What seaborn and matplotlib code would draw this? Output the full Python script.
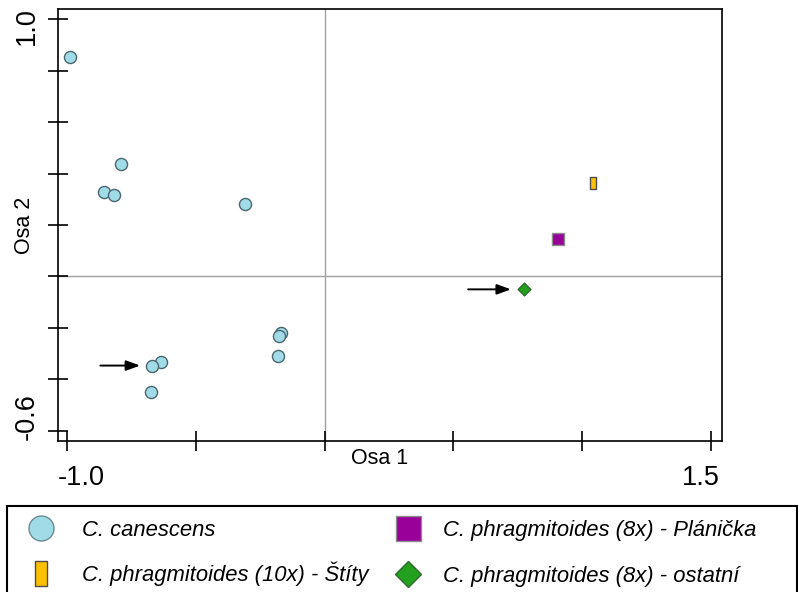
import matplotlib
matplotlib.use("Agg")
import matplotlib.pyplot as plt
import matplotlib.transforms as mtransforms
from matplotlib.lines import Line2D
from matplotlib.patches import Rectangle
from matplotlib.path import Path
import pandas as pd
import seaborn as sns

# ---------------- data ----------------
canescens_x = [-0.988, -0.790, -0.856, -0.818, -0.309, -0.169, -0.176, -0.180, -0.635, -0.671, -0.675]
canescens_y = [0.852, 0.437, 0.328, 0.317, 0.282, -0.221, -0.230, -0.308, -0.331, -0.346, -0.447]
stity_x = [1.041]
stity_y = [0.364]
planicka_x = [0.907]
planicka_y = [0.147]
ostatni_x = [0.773]
ostatni_y = [-0.050]

series_labels = [
    "C. canescens",
    "C. phragmitoides (10x) - Štíty",
    "C. phragmitoides (8x) - Plánička",
    "C. phragmitoides (8x) - ostatní",
]
x_ticks = [-1.0, -0.5, 0.0, 0.5, 1.0, 1.5]
x_tick_labels = ["-1.0", "", "", "", "", "1.5"]
y_ticks = [1.0, 0.8, 0.6, 0.4, 0.2, 0.0, -0.2, -0.4, -0.6]
y_tick_labels = ["1.0", "", "", "", "", "", "", "", "-0.6"]
x_label = "Osa 1"
y_label = "Osa 2"

# ---------------- style ----------------
plt.rcParams["font.family"] = ["Liberation Sans", "DejaVu Sans"]

c_blue, e_blue = "#A2DBE8", "#4A6670"
c_orange, e_orange = "#FFC000", "#4D4D4D"
c_purple, e_purple = "#990099", "#8C8C8C"
c_green, e_green = "#22A01E", "#2E6A2E"

rect_marker = Path([(-0.45, -1), (0.45, -1), (0.45, 1), (-0.45, 1), (-0.45, -1)],
                   [Path.MOVETO, Path.LINETO, Path.LINETO, Path.LINETO, Path.CLOSEPOLY])

W, H = 798, 592
fig = plt.figure(figsize=(W / 100, H / 100), dpi=100)
ax = fig.add_axes([58 / W, 1 - 441 / H, 664 / W, 432 / H])

ax.axvline(0, color="#A0A0A0", lw=1.0, zorder=0)
ax.axhline(0, color="#A0A0A0", lw=1.0, zorder=0)

df_c = pd.DataFrame({"x": canescens_x, "y": canescens_y})
df_s = pd.DataFrame({"x": stity_x, "y": stity_y})
df_p = pd.DataFrame({"x": planicka_x, "y": planicka_y})
df_o = pd.DataFrame({"x": ostatni_x, "y": ostatni_y})

sns.scatterplot(data=df_c, x="x", y="y", ax=ax, marker="o", s=76, color=c_blue,
                edgecolor=e_blue, linewidth=1.0, legend=False, zorder=3)
sns.scatterplot(data=df_s, x="x", y="y", ax=ax, marker=rect_marker, s=66, color=c_orange,
                edgecolor=e_orange, linewidth=1.0, legend=False, zorder=3)
sns.scatterplot(data=df_p, x="x", y="y", ax=ax, marker="s", s=64, color=c_purple,
                edgecolor=e_purple, linewidth=1.0, legend=False, zorder=3)
sns.scatterplot(data=df_o, x="x", y="y", ax=ax, marker="D", s=42, color=c_green,
                edgecolor=e_green, linewidth=1.0, legend=False, zorder=3)

# arrows pointing at highlighted samples
arrowprops = dict(arrowstyle="-|>,head_length=0.6,head_width=0.22", color="black",
                  lw=1.4, shrinkA=0, mutation_scale=14)
ax.annotate("", xy=(ostatni_x[0], ostatni_y[0]), xytext=(-40, 0), textcoords="offset points",
            arrowprops=dict(arrowprops, shrinkB=9.2))
ax.annotate("", xy=(canescens_x[9], canescens_y[9]), xytext=(-37, 0), textcoords="offset points",
            arrowprops=dict(arrowprops, shrinkB=8.4))

ax.set_xlim(-1.035, 1.543)
ax.set_ylim(-0.639, 1.039)
ax.set_xticks(x_ticks)
ax.set_xticklabels(x_tick_labels)
ax.set_yticks(y_ticks)
ax.set_yticklabels(y_tick_labels)

for sp in ax.spines.values():
    sp.set_linewidth(1.2)
    sp.set_color("black")

ax.tick_params(axis="both", direction="inout", length=14, width=1.2, colors="black",
               labelsize=19.5)
ax.tick_params(axis="x", pad=10)
ax.tick_params(axis="y", pad=6, labelrotation=90)

# keep the end labels inside the axis extent
xl = ax.get_xticklabels()
xl[0].set_ha("left")
xl[0].set_transform(xl[0].get_transform() + mtransforms.ScaledTranslation(-9 / 100, 0, fig.dpi_scale_trans))
xl[-1].set_ha("right")
xl[-1].set_transform(xl[-1].get_transform() + mtransforms.ScaledTranslation(9 / 100, 0, fig.dpi_scale_trans))
yl = ax.get_yticklabels()
for lab in yl:
    lab.set_va("center")
yl[0].set_va("top")
yl[0].set_transform(yl[0].get_transform() + mtransforms.ScaledTranslation(0, 12 / 100, fig.dpi_scale_trans))
yl[-1].set_va("bottom")
yl[-1].set_transform(yl[-1].get_transform() + mtransforms.ScaledTranslation(0, -9 / 100, fig.dpi_scale_trans))

ax.set_xlabel(x_label, fontsize=15.5)
ax.xaxis.set_label_coords(0.485, -0.016)
ax.set_ylabel(y_label, fontsize=15.5)
ax.yaxis.set_label_coords(-0.034, 0.5)

# ---------------- legend ----------------
handles = [
    Line2D([], [], ls="none", marker="o", markersize=18, markerfacecolor=c_blue,
           markeredgecolor="#6A8A94", markeredgewidth=1.0),
    Line2D([], [], ls="none", marker=rect_marker, markersize=18, markerfacecolor=c_orange,
           markeredgecolor=e_orange, markeredgewidth=1.0),
    Line2D([], [], ls="none", marker="s", markersize=18, markerfacecolor=c_purple,
           markeredgecolor=e_purple, markeredgewidth=1.0),
    Line2D([], [], ls="none", marker="D", markersize=13.5, markerfacecolor=c_green,
           markeredgecolor=e_green, markeredgewidth=1.0),
]
leg_prop = {"family": ["Liberation Sans", "DejaVu Sans"], "style": "italic", "size": 15.8}
leg1 = fig.legend(handles[:2], series_labels[:2], ncol=1, loc="upper left",
                  bbox_to_anchor=(19 / W, 1 - 520 / H), bbox_transform=fig.transFigure,
                  frameon=False, borderpad=0, borderaxespad=0, handlelength=2.0,
                  handletextpad=0.85, labelspacing=0.94, prop=leg_prop)
leg2 = fig.legend(handles[2:], series_labels[2:], ncol=1, loc="upper left",
                  bbox_to_anchor=(386 / W, 1 - 520 / H), bbox_transform=fig.transFigure,
                  frameon=False, borderpad=0, borderaxespad=0, handlelength=2.0,
                  handletextpad=0.6, labelspacing=1.12, prop=leg_prop)

fig.patches.append(Rectangle((7 / W, -0.05), 0.99, 1 - 506 / H + 0.05, transform=fig.transFigure,
                             fill=False, edgecolor="black", linewidth=1.5, figure=fig))

fig.savefig("out.png", dpi=100)
